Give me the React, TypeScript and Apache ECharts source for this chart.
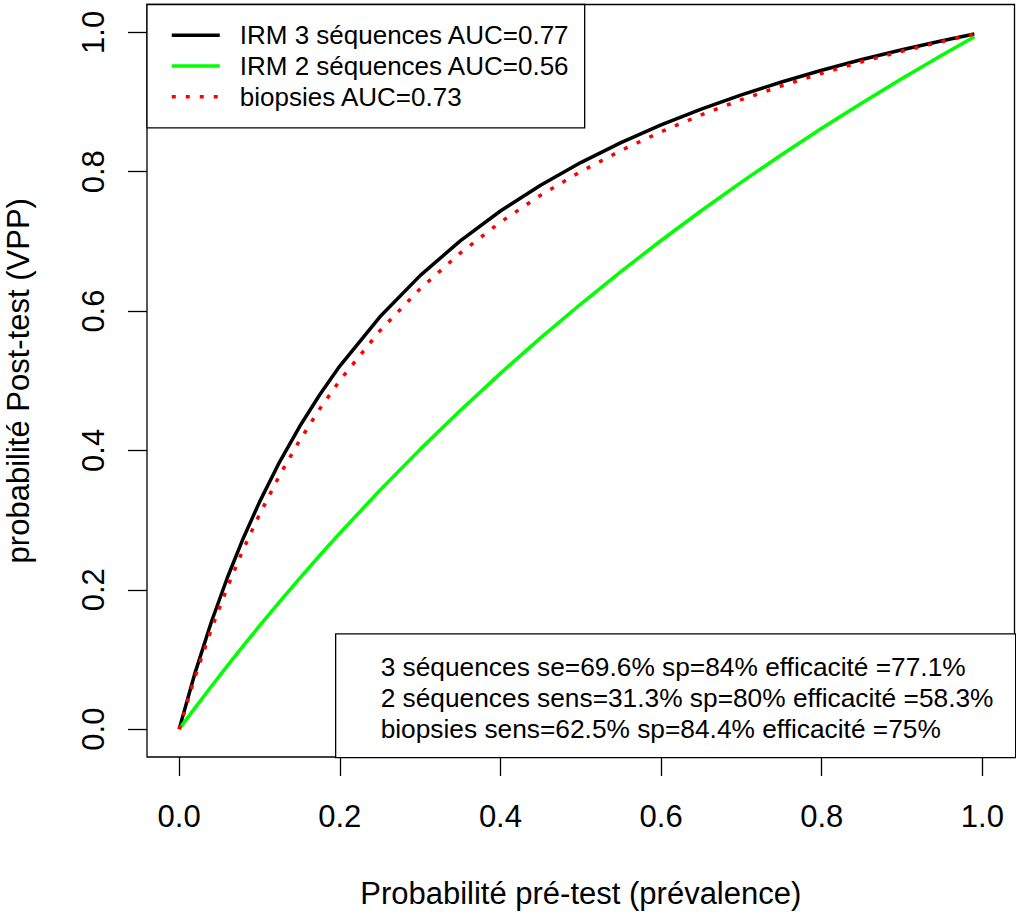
import React, { useEffect, useRef } from "react";
import * as echarts from "echarts";

const prevalence = [0, 0.02, 0.04, 0.06, 0.08, 0.1, 0.125, 0.15, 0.175, 0.2, 0.25, 0.3, 0.35, 0.4, 0.45, 0.5, 0.55, 0.6, 0.65, 0.7, 0.75, 0.8, 0.85, 0.9, 0.95, 0.99];
const irm3 = [0, 0.0815, 0.1534, 0.2173, 0.2744, 0.3258, 0.3833, 0.4343, 0.4799, 0.521, 0.5918, 0.6509, 0.7008, 0.7436, 0.7807, 0.8131, 0.8417, 0.8671, 0.8899, 0.9103, 0.9288, 0.9457, 0.961, 0.9751, 0.988, 0.9977];
const irm2 = [0, 0.0309, 0.0612, 0.0908, 0.1198, 0.1481, 0.1827, 0.2164, 0.2492, 0.2812, 0.3428, 0.4015, 0.4573, 0.5106, 0.5615, 0.6101, 0.6567, 0.7013, 0.744, 0.785, 0.8244, 0.8623, 0.8987, 0.9337, 0.9675, 0.9936];
const biopsies = [0, 0.0756, 0.143, 0.2036, 0.2584, 0.308, 0.364, 0.4142, 0.4594, 0.5004, 0.5718, 0.6319, 0.6833, 0.7276, 0.7662, 0.8002, 0.8304, 0.8573, 0.8815, 0.9034, 0.9232, 0.9413, 0.9578, 0.973, 0.987, 0.9975];

const seriesNames = ["IRM 3 séquences AUC=0.77", "IRM 2 séquences AUC=0.56", "biopsies AUC=0.73"];
const tickValues = [0, 0.2, 0.4, 0.6, 0.8, 1.0];
const infoLines = [
  "3 séquences se=69.6% sp=84% efficacité =77.1%",
  "2 séquences sens=31.3% sp=80% efficacité =58.3%",
  "biopsies sens=62.5% sp=84.4% efficacité =75%",
];
const xTitle = "Probabilité pré-test (prévalence)";
const yTitle = "probabilité Post-test (VPP)";

const FONT = "'Liberation Sans', Arial, sans-serif";

function pairs(xs: number[], ys: number[]) {
  return xs.map((x, i) => [x, ys[i]]);
}

export default function App() {
  const ref = useRef<HTMLDivElement>(null);
  useEffect(() => {
    if (!ref.current) return;
    const chart = echarts.init(ref.current, undefined, { renderer: "svg" });
    const axisCommon = {
      type: "value" as const,
      min: -0.04,
      max: 1.04,
      splitLine: { show: false },
      axisLine: { show: false, onZero: false },
      axisTick: { show: true, customValues: tickValues, length: 19, inside: false, lineStyle: { color: "#000", width: 1.3 } },
      nameLocation: "middle" as const,
      nameTextStyle: { fontFamily: FONT, fontSize: 31, color: "#000" },
    };
    chart.setOption({
      animation: false,
      backgroundColor: "#fff",
      grid: {
        left: 147, top: 4.5, width: 867.5, height: 752.5,
        show: true, borderColor: "#000", borderWidth: 1.3, backgroundColor: "transparent",
        containLabel: false, outerBoundsMode: "none",
      },
      xAxis: {
        ...axisCommon,
        name: xTitle,
        nameGap: 121,
        axisLabel: { customValues: tickValues, formatter: (v: number) => v.toFixed(1), fontFamily: FONT, fontSize: 31, color: "#000", margin: 44 },
      },
      yAxis: {
        ...axisCommon,
        name: yTitle,
        nameGap: 113,
        nameRotate: 90,
        axisLabel: { customValues: tickValues, formatter: (v: number) => v.toFixed(1), fontFamily: FONT, fontSize: 31, color: "#000", margin: 38, rotate: 90 },
      },
      legend: {
        left: 147,
        top: 4.5,
        orient: "vertical",
        data: seriesNames,
        itemWidth: 48,
        itemHeight: 14,
        itemGap: 1.2,
        padding: [16, 14.7, 16.5, 23],
        borderColor: "#000",
        borderWidth: 1.3,
        backgroundColor: "#fff",
        itemStyle: { opacity: 0 },
        lineStyle: { width: 3.5 },
        textStyle: { fontFamily: FONT, fontSize: 26, color: "#000", lineHeight: 29.5, padding: [0, 0, 0, 15] },
      },
      graphic: [
        {
          type: "group",
          left: 335,
          top: 633.3,
          children: [
            { type: "rect", shape: { x: 0, y: 0, width: 680, height: 123.7 }, style: { fill: "#fff", stroke: "#000", lineWidth: 1.3 } },
            { type: "text", x: 45, y: 17, style: { text: infoLines.join("\n"), font: `26.3px ${FONT}`, fill: "#000", lineHeight: 31.2 } },
          ],
        },
      ],
      series: [
        { name: seriesNames[0], type: "line", data: pairs(prevalence, irm3), symbol: "none", lineStyle: { color: "#000", width: 3.5 }, itemStyle: { color: "#000" } },
        { name: seriesNames[1], type: "line", data: pairs(prevalence, irm2), symbol: "none", lineStyle: { color: "#00ff00", width: 3.5 }, itemStyle: { color: "#00ff00" } },
        { name: seriesNames[2], type: "line", data: pairs(prevalence, biopsies), symbol: "none", lineStyle: { color: "#ff0000", width: 3.5, type: [4, 10] }, itemStyle: { color: "#ff0000" } },
      ],
    });
    return () => chart.dispose();
  }, []);
  return <div ref={ref} style={{ position: "absolute", left: 0, top: 0, width: 1016, height: 915, background: "#fff" }} />;
}
